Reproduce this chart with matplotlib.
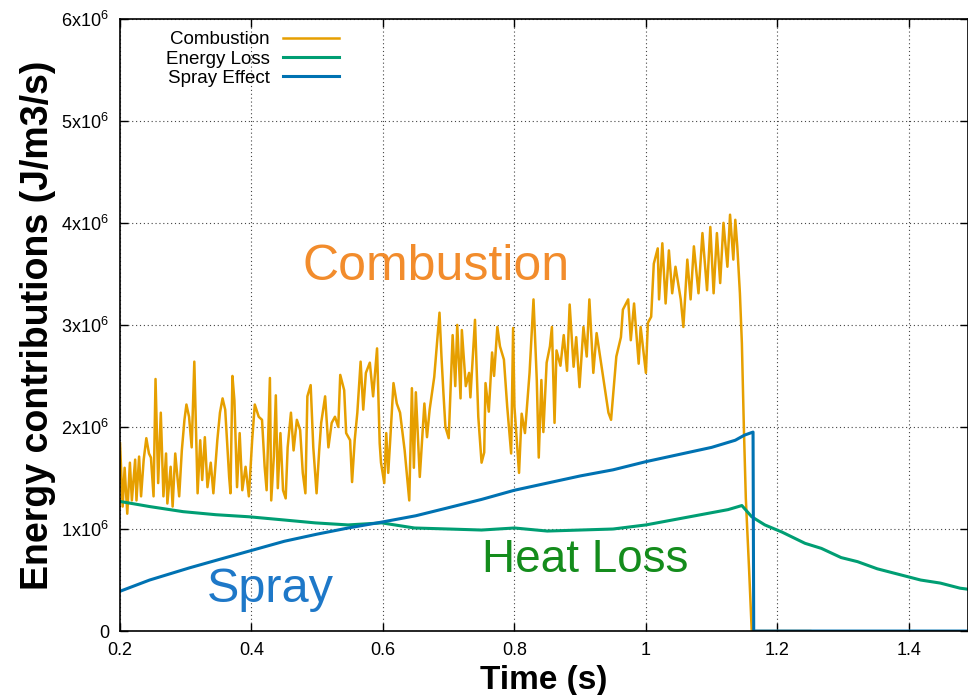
import matplotlib
matplotlib.use("Agg")
import matplotlib.pyplot as plt
from matplotlib.ticker import FuncFormatter, MultipleLocator

plt.rcParams['font.family'] = ['Liberation Sans', 'DejaVu Sans']
plt.rcParams['mathtext.default'] = 'regular'

# combustion source term (units of 1e6 J/m3/s)
comb_t = [0.200, 0.204, 0.207, 0.211, 0.215, 0.218, 0.223, 0.225, 0.229, 0.232,
          0.236, 0.240, 0.244, 0.247, 0.251, 0.254, 0.258, 0.262, 0.266, 0.270,
          0.272, 0.277, 0.280, 0.284, 0.290, 0.294, 0.298, 0.301, 0.305, 0.309,
          0.313, 0.318, 0.322, 0.325, 0.329, 0.333, 0.338, 0.342, 0.348, 0.352,
          0.356, 0.360, 0.366, 0.368, 0.371, 0.374, 0.378, 0.382, 0.386, 0.391,
          0.396, 0.401, 0.405, 0.411, 0.416, 0.420, 0.423, 0.428, 0.430, 0.434,
          0.437, 0.440, 0.444, 0.448, 0.452, 0.455, 0.460, 0.464, 0.469, 0.474,
          0.478, 0.482, 0.485, 0.490, 0.494, 0.499, 0.503, 0.506, 0.512, 0.517,
          0.522, 0.527, 0.532, 0.535, 0.541, 0.544, 0.550, 0.553, 0.557, 0.561,
          0.566, 0.570, 0.574, 0.580, 0.585, 0.591, 0.595, 0.597, 0.602, 0.605,
          0.608, 0.611, 0.616, 0.621, 0.626, 0.633, 0.640, 0.644, 0.647, 0.650,
          0.656, 0.663, 0.667, 0.671, 0.678, 0.686, 0.689, 0.692, 0.695, 0.700,
          0.706, 0.710, 0.713, 0.718, 0.720, 0.726, 0.731, 0.733, 0.740, 0.745,
          0.750, 0.754, 0.756, 0.761, 0.766, 0.769, 0.774, 0.778, 0.784, 0.789,
          0.795, 0.798, 0.800, 0.807, 0.811, 0.816, 0.823, 0.829, 0.834, 0.837,
          0.841, 0.844, 0.849, 0.854, 0.857, 0.861, 0.864, 0.870, 0.875, 0.880,
          0.884, 0.890, 0.894, 0.899, 0.905, 0.910, 0.914, 0.920, 0.925, 0.935,
          0.943, 0.947, 0.955, 0.962, 0.965, 0.973, 0.977, 0.982, 0.989, 0.992,
          1.000, 1.003, 1.008, 1.012, 1.018, 1.020, 1.025, 1.030, 1.035, 1.040,
          1.045, 1.053, 1.057, 1.063, 1.068, 1.073, 1.080, 1.086, 1.093, 1.098,
          1.103, 1.108, 1.113, 1.118, 1.124, 1.128, 1.133, 1.136, 1.139, 1.143,
          1.146, 1.149, 1.152, 1.157, 1.161, 1.250]
comb_v = [1.84, 1.22, 1.60, 1.15, 1.65, 1.28, 1.68, 1.28, 1.71, 1.32,
          1.68, 1.89, 1.74, 1.70, 1.32, 2.47, 1.45, 2.14, 1.32, 1.74,
          1.25, 1.61, 1.22, 1.74, 1.32, 1.77, 2.07, 2.22, 2.10, 1.80,
          2.64, 1.35, 1.87, 1.48, 1.90, 1.41, 1.65, 1.35, 1.87, 2.14,
          2.28, 2.17, 1.51, 1.35, 2.50, 2.26, 1.41, 1.94, 1.38, 1.61,
          1.32, 1.87, 2.22, 2.10, 2.07, 1.61, 1.38, 2.48, 1.28, 1.71,
          2.31, 1.40, 1.94, 1.38, 1.30, 1.80, 2.14, 1.77, 2.07, 1.97,
          1.55, 1.35, 2.30, 2.41, 1.80, 1.35, 1.77, 2.04, 2.30, 1.80,
          2.04, 2.10, 2.00, 2.51, 2.36, 1.94, 1.87, 1.46, 1.87, 2.14,
          2.64, 2.17, 2.53, 2.63, 2.30, 2.77, 1.84, 1.65, 1.45, 1.94,
          1.55, 1.87, 2.43, 2.23, 2.14, 1.77, 1.28, 2.38, 1.60, 2.34,
          1.51, 2.23, 1.90, 2.17, 2.49, 3.12, 2.69, 2.33, 2.00, 1.89,
          2.90, 2.40, 3.00, 2.28, 2.95, 2.40, 2.53, 2.29, 3.05, 2.10,
          1.65, 1.75, 2.43, 2.15, 2.73, 2.50, 2.98, 2.79, 2.66, 2.20,
          1.74, 2.97, 2.20, 1.55, 2.13, 1.94, 2.53, 3.25, 2.46, 1.70,
          2.46, 1.95, 2.63, 2.79, 2.98, 2.04, 2.75, 2.60, 2.90, 2.55,
          3.20, 2.59, 2.88, 2.39, 2.98, 2.69, 3.25, 2.53, 2.92, 2.49,
          2.14, 2.07, 2.69, 2.88, 3.15, 3.25, 2.85, 3.21, 2.62, 2.98,
          2.53, 3.02, 3.08, 3.60, 3.75, 3.25, 3.80, 3.21, 3.73, 3.31,
          3.57, 3.25, 2.98, 3.64, 3.25, 3.77, 3.31, 3.90, 3.34, 3.96,
          3.31, 3.90, 3.41, 4.00, 3.57, 4.08, 3.64, 4.03, 3.77, 3.31,
          2.82, 2.00, 1.30, 0.60, 0.00, 0.00]

loss_t = [0.200, 0.245, 0.296, 0.346, 0.396, 0.447, 0.497, 0.547, 0.598, 0.648,
          0.700, 0.750, 0.800, 0.850, 0.900, 0.950, 1.000, 1.050, 1.075, 1.125,
          1.146, 1.161, 1.181, 1.207, 1.242, 1.267, 1.297, 1.322, 1.352, 1.388,
          1.418, 1.448, 1.478, 1.490]
loss_v = [1.27, 1.22, 1.17, 1.14, 1.12, 1.09, 1.06, 1.04, 1.06, 1.01,
          1.00, 0.99, 1.01, 0.98, 0.99, 1.00, 1.04, 1.10, 1.13, 1.19,
          1.23, 1.12, 1.04, 0.97, 0.86, 0.81, 0.72, 0.68, 0.61, 0.55,
          0.50, 0.47, 0.42, 0.41]

spray_t = [0.200, 0.245, 0.306, 0.350, 0.400, 0.450, 0.500, 0.547, 0.600, 0.650,
           0.694, 0.750, 0.800, 0.850, 0.900, 0.950, 1.000, 1.050, 1.100, 1.136,
           1.150, 1.163, 1.164, 1.490]
spray_v = [0.39, 0.50, 0.62, 0.70, 0.79, 0.88, 0.95, 1.01, 1.07, 1.13,
           1.20, 1.29, 1.38, 1.45, 1.52, 1.58, 1.66, 1.73, 1.80, 1.87,
           1.92, 1.95, 0.00, 0.00]

scale = 1e6
fig = plt.figure(figsize=(9.68, 6.95), dpi=100)
ax = fig.add_axes([0.124, 0.092, 0.876, 0.881])

ax.plot(comb_t, [v * scale for v in comb_v], color='#E69F00', lw=1.8, label='Combustion')
ax.plot(loss_t, [v * scale for v in loss_v], color='#009E73', lw=2.2, label='Energy Loss')
ax.plot(spray_t, [v * scale for v in spray_v], color='#0072B2', lw=2.2, label='Spray Effect')

ax.set_xlim(0.2, 1.49)
ax.set_ylim(0, 6e6)
ax.xaxis.set_major_locator(MultipleLocator(0.2))
ax.yaxis.set_major_locator(MultipleLocator(1e6))
ax.xaxis.set_major_formatter(FuncFormatter(lambda x, p: f'{x:g}'))
ax.yaxis.set_major_formatter(FuncFormatter(
    lambda y, p: '0' if y == 0 else r'$%dx10^{6}$' % round(y / 1e6)))
ax.tick_params(direction='in', length=6, width=1, labelsize=13, pad=8,
               top=True, right=True)
ax.grid(True, color='#444444', linestyle=(0, (1, 2.5)), lw=0.8)
for s in ax.spines.values():
    s.set_linewidth(1.2)

ax.set_xlabel('Time (s)', fontsize=24, fontweight='bold', labelpad=4)
ax.set_ylabel('Energy contributions (J/m3/s)', fontsize=27, fontweight='bold', labelpad=4)

ax.text(0.478, 3.44e6, 'Combustion', color='#F28C2C', fontsize=36)
ax.text(0.332, 0.28e6, 'Spray', color='#1E78C8', fontsize=35)
ax.text(0.751, 0.58e6, 'Heat Loss', color='#148C1C', fontsize=33)

ax.legend(loc='upper right', bbox_to_anchor=(0.267, 0.992), frameon=False,
          markerfirst=False, fontsize=13.5, handlelength=3.0, labelspacing=0.12,
          handletextpad=0.7, borderaxespad=0)

fig.savefig('out.png', dpi=100)
